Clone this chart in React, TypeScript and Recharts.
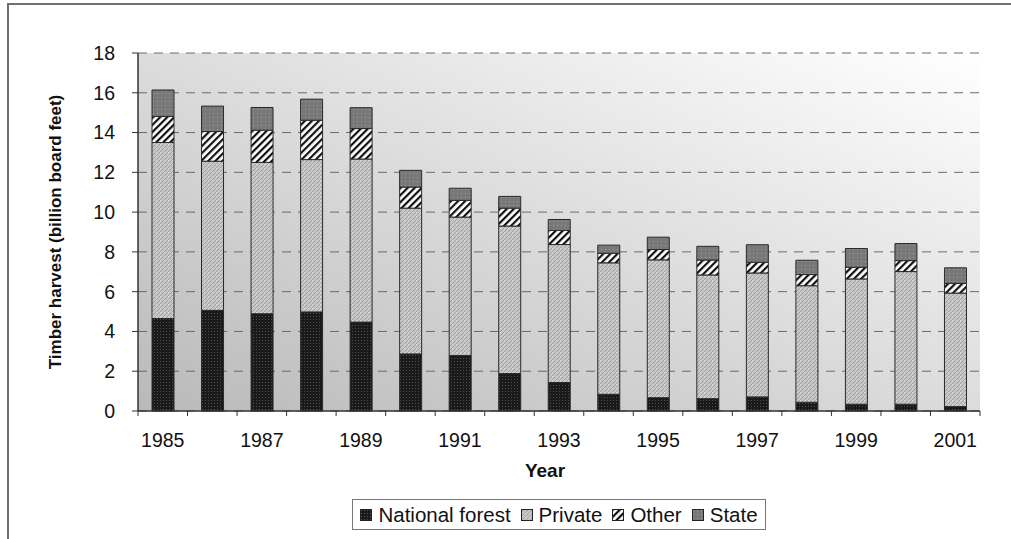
import React from 'react';
import { BarChart, Bar, XAxis, YAxis, CartesianGrid, Legend } from 'recharts';

const years = ['1985', '1986', '1987', '1988', '1989', '1990', '1991', '1992', '1993', '1994', '1995', '1996', '1997', '1998', '1999', '2000', '2001'];
const nationalForest = [4.65, 5.06, 4.89, 4.98, 4.47, 2.87, 2.79, 1.88, 1.43, 0.84, 0.67, 0.62, 0.71, 0.44, 0.34, 0.34, 0.22];
const privateLand = [8.85, 7.5, 7.61, 7.66, 8.2, 7.33, 6.96, 7.42, 6.94, 6.61, 6.93, 6.22, 6.23, 5.86, 6.3, 6.67, 5.71];
const other = [1.31, 1.49, 1.62, 1.98, 1.53, 1.06, 0.84, 0.9, 0.71, 0.48, 0.52, 0.75, 0.54, 0.56, 0.59, 0.55, 0.49];
const state = [1.33, 1.28, 1.14, 1.06, 1.05, 0.84, 0.61, 0.59, 0.55, 0.41, 0.62, 0.69, 0.88, 0.72, 0.94, 0.86, 0.78];
const yTicks = [0, 2, 4, 6, 8, 10, 12, 14, 16, 18];

const seriesNames = ['National forest', 'Private', 'Other', 'State'];
const seriesKeys = ['nf', 'priv', 'other', 'state'];
const seriesFills = ['url(#pNF)', 'url(#pPriv)', 'url(#pOther)', 'url(#pState)'];

const data = years.map((y, i) => ({
  year: y,
  nf: nationalForest[i],
  priv: privateLand[i],
  other: other[i],
  state: state[i],
}));

const FONT = '"Liberation Sans", Arial, sans-serif';

const XTick = (props: any) => {
  const { x, y, payload, index, width, visibleTicksCount } = props;
  const half = payload && typeof payload.offset === 'number' && payload.offset > 0
    ? payload.offset
    : width / (visibleTicksCount || years.length) / 2;
  const showLabel = index % 2 === 0;
  const last = index === (visibleTicksCount || years.length) - 1;
  return (
    <g>
      <line x1={x - half} x2={x - half} y1={y} y2={y + 5} stroke="#333" strokeWidth={1} />
      {last && <line x1={x + half} x2={x + half} y1={y} y2={y + 5} stroke="#333" strokeWidth={1} />}
      {showLabel && (
        <text x={x} y={y + 22} dy="0.71em" textAnchor="middle" fontSize={19.5} fill="#111" fontFamily={FONT}>
          {payload.value}
        </text>
      )}
    </g>
  );
};

const YearLabel = (props: any) => {
  const vb = props.viewBox || { x: 0, y: 0, width: 0, height: 0 };
  return (
    <text x={vb.x + vb.width / 2 - 14} y={vb.y + 66} textAnchor="middle" fontSize={19} fontWeight="bold" fill="#111" fontFamily={FONT}>
      Year
    </text>
  );
};

const YLabel = (props: any) => {
  const vb = props.viewBox || { x: 0, y: 0, width: 0, height: 0 };
  const cx = vb.x + 55;
  const cy = vb.y + vb.height / 2;
  return (
    <text x={cx} y={cy} transform={`rotate(-90, ${cx}, ${cy})`} textAnchor="middle" dominantBaseline="central" fontSize={17} fontWeight="bold" fill="#111" fontFamily={FONT}>
      Timber harvest (billion board feet)
    </text>
  );
};

const PatternDefs = () => (
  <>
    <pattern id="pNF" width="3" height="3" patternUnits="userSpaceOnUse">
      <rect width="3" height="3" fill="#1a1a1a" />
      <rect x="1" y="1" width="1" height="1" fill="#505050" />
    </pattern>
    <pattern id="pPriv" width="4" height="4" patternUnits="userSpaceOnUse">
      <rect width="4" height="4" fill="#c6c6c6" />
      <path d="M0,4 L4,0" stroke="#a0a0a0" strokeWidth="1" />
      <rect x="0" y="0" width="1" height="1" fill="#e0e0e0" />
    </pattern>
    <pattern id="pOther" width="5" height="5" patternUnits="userSpaceOnUse" patternTransform="rotate(45)">
      <rect width="5" height="5" fill="#ffffff" />
      <rect width="2.2" height="5" fill="#111111" />
    </pattern>
    <pattern id="pState" width="4" height="4" patternUnits="userSpaceOnUse">
      <rect width="4" height="4" fill="#787878" />
      <rect x="1" y="1" width="1" height="1" fill="#a0a0a0" />
    </pattern>
    <linearGradient id="bgGrad" x1="0" y1="1" x2="1" y2="0">
      <stop offset="0" stopColor="#b9b9b9" />
      <stop offset="1" stopColor="#ffffff" />
    </linearGradient>
  </>
);

const LegendContent = () => (
  <div style={{ display: 'flex', justifyContent: 'center', height: 31 }}>
    <div
      style={{
        display: 'flex',
        alignItems: 'center',
        height: 31,
        boxSizing: 'border-box',
        border: '1px solid #777',
        background: '#fff',
        padding: '0 7px',
        fontFamily: FONT,
        fontSize: 20.5,
        color: '#111',
      }}
    >
      {seriesNames.map((name, i) => (
        <div key={name} style={{ display: 'flex', alignItems: 'center', marginRight: i < seriesNames.length - 1 ? 10 : 0 }}>
          <svg width={12} height={12} style={{ marginRight: 6 }}>
            <defs>
              <PatternDefs />
            </defs>
            <rect x={0.5} y={0.5} width={11} height={11} fill={seriesFills[i]} stroke="#222" strokeWidth={1} />
          </svg>
          <span style={{ lineHeight: '22px' }}>{name}</span>
        </div>
      ))}
    </div>
  </div>
);

export default function App() {
  return (
    <div style={{ position: 'relative', width: 1011, height: 539, background: '#fff', fontFamily: FONT, overflow: 'hidden' }}>
      <style>{`body{margin:0;overflow:hidden;background:#fff}`}</style>
      <div
        style={{
          position: 'absolute',
          left: 7,
          top: 3,
          width: 1004,
          height: 536,
          borderTop: '2px solid #707070',
          borderLeft: '2px solid #707070',
          boxSizing: 'border-box',
        }}
      />
      <div style={{ position: 'absolute', left: 0, top: 0 }}>
        <BarChart width={1011} height={539} data={data} margin={{ top: 53, right: 31, left: 0, bottom: 9 }} barSize={22}>
          <defs>
            <PatternDefs />
          </defs>
          <CartesianGrid
            vertical={false}
            horizontal={true}
            stroke="#6a6a6a"
            strokeDasharray="9 7"
            fill="url(#bgGrad)"
            fillOpacity={1}
          />
          <XAxis
            dataKey="year"
            height={88}
            interval={0}
            tickSize={0}
            tickMargin={0}
            tickLine={false}
            axisLine={{ stroke: '#333', strokeWidth: 1.5 }}
            tick={<XTick />}
            label={{ content: YearLabel }}
          />
          <XAxis
            xAxisId="top"
            dataKey="year"
            orientation="top"
            height={0}
            tick={false}
            tickLine={false}
            axisLine={{ stroke: '#8a8a8a', strokeWidth: 1 }}
          />
          <YAxis
            domain={[0, 18]}
            ticks={yTicks}
            width={138}
            tickSize={6}
            tickMargin={17}
            interval={0}
            tick={{ fill: '#111', fontSize: 19.5, fontFamily: FONT }}
            tickLine={{ stroke: '#333' }}
            axisLine={{ stroke: '#333', strokeWidth: 1.5 }}
            label={{ content: YLabel }}
          />
          <YAxis
            yAxisId="right"
            orientation="right"
            domain={[0, 18]}
            width={0}
            tick={false}
            tickLine={false}
            axisLine={{ stroke: '#8a8a8a', strokeWidth: 1.5 }}
          />
          <Legend
            verticalAlign="bottom"
            content={<LegendContent />}
            wrapperStyle={{ left: 138, width: 842, bottom: 9 }}
          />
          {seriesKeys.map((k, i) => (
            <Bar
              key={k}
              dataKey={k}
              name={seriesNames[i]}
              stackId="a"
              fill={seriesFills[i]}
              stroke="#2a2a2a"
              strokeWidth={1}
              isAnimationActive={false}
            />
          ))}
        </BarChart>
      </div>
    </div>
  );
}
